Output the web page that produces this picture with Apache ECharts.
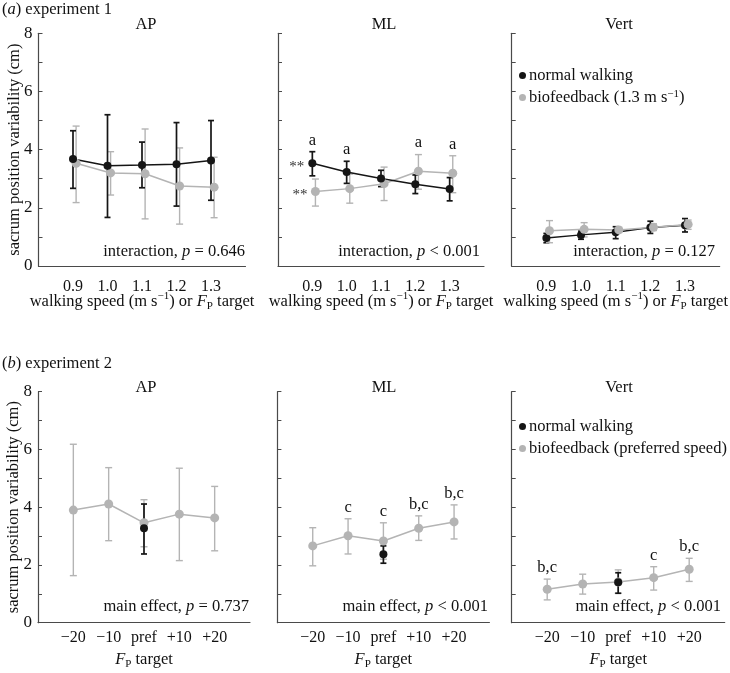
<!DOCTYPE html>
<html>
<head>
<meta charset="utf-8">
<script src="https://cdn.jsdelivr.net/npm/echarts@6/dist/echarts.min.js"></script>
<style>html,body{margin:0;padding:0;background:#fff}#c{width:730px;height:673px}</style>
</head>
<body>
<div id="c"></div>
<script>
// ---- data ----
const speeds = [0.9, 1.0, 1.1, 1.2, 1.3];
const speedLabels = ['0.9', '1.0', '1.1', '1.2', '1.3'];
const targets = [-20, -10, 0, 10, 20];
const targetLabels = ['\u221220', '\u221210', 'pref', '+10', '+20'];
const yTickValues = [0, 2, 4, 6, 8];
const yTickLabels = ['0', '2', '4', '6', '8'];

// experiment 1 (mean, lower, upper)
const e1AP_normal = [3.68, 3.45, 3.47, 3.50, 3.63];
const e1AP_normalLo = [2.67, 1.67, 2.69, 2.06, 2.26];
const e1AP_normalHi = [4.65, 5.20, 4.26, 4.93, 5.00];
const e1AP_bio = [3.53, 3.20, 3.17, 2.75, 2.71];
const e1AP_bioLo = [2.18, 2.44, 1.62, 1.44, 1.66];
const e1AP_bioHi = [4.81, 3.93, 4.71, 4.06, 3.74];

const e1ML_normal = [3.53, 3.23, 3.01, 2.81, 2.65];
const e1ML_normalLo = [3.10, 2.84, 2.73, 2.49, 2.24];
const e1ML_normalHi = [3.93, 3.60, 3.29, 3.13, 3.04];
const e1ML_bio = [2.56, 2.66, 2.83, 3.26, 3.19];
const e1ML_bioLo = [2.06, 2.16, 2.25, 2.64, 2.52];
const e1ML_bioHi = [2.99, 3.16, 3.40, 3.83, 3.79];

const e1Vert_normal = [0.96, 1.07, 1.16, 1.32, 1.40];
const e1Vert_normalLo = [0.80, 0.92, 0.94, 1.12, 1.17];
const e1Vert_normalHi = [1.12, 1.20, 1.35, 1.54, 1.63];
const e1Vert_bio = [1.21, 1.26, 1.24, 1.33, 1.43];
const e1Vert_bioLo = [0.80, 1.00, 1.15, 1.22, 1.26];
const e1Vert_bioHi = [1.56, 1.49, 1.33, 1.45, 1.58];

// experiment 2
const e2AP_bio = [3.90, 4.11, 3.46, 3.76, 3.63];
const e2AP_bioLo = [1.63, 2.84, 2.63, 2.15, 2.49];
const e2AP_bioHi = [6.18, 5.37, 4.26, 5.35, 4.72];
const e2AP_normal = [3.27], e2AP_normalLo = [2.38], e2AP_normalHi = [4.11];

const e2ML_bio = [2.66, 3.01, 2.83, 3.27, 3.49];
const e2ML_bioLo = [1.97, 2.38, 2.20, 2.85, 2.90];
const e2ML_bioHi = [3.29, 3.60, 3.46, 3.70, 4.08];
const e2ML_normal = [2.37], e2ML_normalLo = [2.06], e2ML_normalHi = [2.66];

const e2Vert_bio = [1.16, 1.34, 1.41, 1.56, 1.85];
const e2Vert_bioLo = [0.79, 0.99, 1.02, 1.13, 1.43];
const e2Vert_bioHi = [1.51, 1.68, 1.83, 1.94, 2.23];
const e2Vert_normal = [1.40], e2Vert_normalLo = [1.02], e2Vert_normalHi = [1.73];

// annotations
const e1ML_normalTop = ['a', 'a', '', '', ''];
const e1ML_bioTop = ['', '', '', 'a', 'a'];
const e1ML_normalLeft = ['**', '', '', '', ''];
const e1ML_bioLeft = ['**', '', '', '', ''];
const e2ML_bioTop = ['', 'c', 'c', 'b,c', 'b,c'];
const e2Vert_bioTop = ['b,c', '', '', 'c', 'b,c'];

const statsTop = ['interaction, {it|p} = 0.646', 'interaction, {it|p} < 0.001', 'interaction, {it|p} = 0.127'];
const statsBottom = ['main effect, {it|p} = 0.737', 'main effect, {it|p} < 0.001', 'main effect, {it|p} < 0.001'];
const panelTitles = ['AP', 'ML', 'Vert'];
const nameNormal = 'normal walking';
const nameBio1 = 'biofeedback (1.3 m s\u22121)';
const nameBio2 = 'biofeedback (preferred speed)';

// ---- style ----
const FONT = '"Liberation Serif", "Times New Roman", serif';
const BLACK = '#151515';
const GRAY = '#b4b4b4';
const AXIS = '#4a4a4a';
const bioOffset = 0.009;
const FS = 16.5;

const gridsPos = [
  {left: 38.5, top: 33.3, width: 207, height: 232.7},
  {left: 278, top: 33.3, width: 206, height: 232.7},
  {left: 511.7, top: 33.3, width: 210, height: 232.7},
  {left: 38, top: 391.7, width: 212, height: 231},
  {left: 277.4, top: 391.7, width: 212, height: 231},
  {left: 511.7, top: 391.7, width: 213, height: 231}
];

const richName = {
  sup: {fontFamily: FONT, fontSize: 11, verticalAlign: 'top', lineHeight: 12, color: '#111'},
  sub: {fontFamily: FONT, fontSize: 11, verticalAlign: 'bottom', lineHeight: 21, color: '#111'},
  it: {fontFamily: FONT, fontSize: FS, fontStyle: 'italic', color: '#111'}
};

const grid = gridsPos.map(g => Object.assign({containLabel: false}, g));
const xAxis = gridsPos.map((g, i) => {
  const top = i < 3;
  return {
    gridIndex: i, type: 'value',
    min: top ? 0.8 : -30, max: top ? 1.4 : 30, interval: top ? 0.1 : 10,
    axisLine: {onZero: false, lineStyle: {color: AXIS, width: 1.2}},
    axisTick: {show: false}, splitLine: {show: false},
    axisLabel: {
      color: '#111', fontFamily: FONT, fontSize: 16, margin: top ? 13 : 7,
      formatter: v => {
        if (top) { const k = speeds.findIndex(s => Math.abs(s - v) < 1e-6); return k >= 0 ? speedLabels[k] : ''; }
        const k = targets.findIndex(s => Math.abs(s - v) < 1e-6); return k >= 0 ? targetLabels[k] : '';
      }
    },
    name: top ? 'walking speed (m s{sup|\u22121}) or {it|F}{sub|P} target' : '{it|F}{sub|P} target',
    nameLocation: 'middle', nameGap: top ? 25 : 26, nameMoveOverlap: false,
    nameTextStyle: {fontFamily: FONT, fontSize: FS, color: '#111', rich: richName}
  };
});
const yAxis = gridsPos.map((g, i) => ({
  gridIndex: i, type: 'value', min: 0, max: 8, interval: 1,
  axisLine: {show: true, onZero: false, lineStyle: {color: AXIS, width: 1.2}},
  axisTick: {show: true, inside: true, length: 4, lineStyle: {color: AXIS}},
  splitLine: {show: false},
  axisLabel: {
    show: i % 3 === 0, color: '#111', fontFamily: FONT, fontSize: 17, margin: 6,
    formatter: v => { const k = yTickValues.indexOf(v); return k >= 0 ? yTickLabels[k] : ''; }
  },
  name: i % 3 === 0 ? 'sacrum position variability (cm)' : '',
  nameLocation: 'middle', nameGap: 15.5, nameMoveOverlap: false,
  nameTextStyle: {fontFamily: FONT, fontSize: FS, color: '#111'}
}));

function errSeries(gi, xs, mean, lo, hi, color, lw, cap, off, topLab, leftLab) {
  return {
    type: 'custom', name: '_err' + gi, xAxisIndex: gi, yAxisIndex: gi, silent: true,
    data: xs.map((x, i) => [x + off, lo[i], hi[i], mean[i]]),
    encode: {x: 0, y: [1, 2]},
    renderItem: (params, api) => {
      const x = api.value(0), l = api.value(1), h = api.value(2), m = api.value(3);
      const a = api.coord([x, l]), b = api.coord([x, h]);
      const st = {stroke: color, lineWidth: lw};
      const ch = [
        {type: 'line', shape: {x1: a[0], y1: a[1], x2: b[0], y2: b[1]}, style: st},
        {type: 'line', shape: {x1: a[0] - cap, y1: a[1], x2: a[0] + cap, y2: a[1]}, style: st},
        {type: 'line', shape: {x1: b[0] - cap, y1: b[1], x2: b[0] + cap, y2: b[1]}, style: st}
      ];
      const t = topLab ? topLab[params.dataIndex] : '';
      if (t) ch.push({type: 'text', style: {text: t, x: b[0], y: b[1] - 3, textAlign: 'center', textVerticalAlign: 'bottom', align: 'center', verticalAlign: 'bottom', font: FS + 'px ' + FONT, fill: '#111'}});
      const s = leftLab ? leftLab[params.dataIndex] : '';
      if (s) { const p = api.coord([x, m]); ch.push({type: 'text', style: {text: s, x: p[0] - 8, y: p[1] + 4, textAlign: 'right', textVerticalAlign: 'middle', align: 'right', verticalAlign: 'middle', font: '15px ' + FONT, fill: '#333'}}); }
      return {type: 'group', children: ch};
    },
    z: 2
  };
}
function lineSeries(gi, name, xs, mean, color, size, off) {
  return {
    type: 'line', name: name, xAxisIndex: gi, yAxisIndex: gi,
    data: xs.map((x, i) => [x + off, mean[i]]),
    symbol: 'circle', symbolSize: size, showSymbol: true,
    itemStyle: {color: color}, lineStyle: {color: color, width: 1.5},
    z: 3
  };
}

const series = [];
// experiment 1: AP, ML (gray below black)
[[0, e1AP_bio, e1AP_bioLo, e1AP_bioHi, e1AP_normal, e1AP_normalLo, e1AP_normalHi, null, null, null, null],
 [1, e1ML_bio, e1ML_bioLo, e1ML_bioHi, e1ML_normal, e1ML_normalLo, e1ML_normalHi, e1ML_bioTop, e1ML_bioLeft, e1ML_normalTop, e1ML_normalLeft]
].forEach(p => {
  series.push(errSeries(p[0], speeds, p[1], p[2], p[3], GRAY, 1.4, 3.5, bioOffset, p[7], p[8]));
  series.push(lineSeries(p[0], nameBio1, speeds, p[1], GRAY, 9, bioOffset));
  series.push(errSeries(p[0], speeds, p[4], p[5], p[6], BLACK, 1.7, 3, 0, p[9], p[10]));
  series.push(lineSeries(p[0], nameNormal, speeds, p[4], BLACK, 8, 0));
});
// experiment 1: Vert (black below gray)
series.push(errSeries(2, speeds, e1Vert_normal, e1Vert_normalLo, e1Vert_normalHi, BLACK, 1.7, 3, 0, null, null));
series.push(lineSeries(2, nameNormal, speeds, e1Vert_normal, BLACK, 8, 0));
series.push(errSeries(2, speeds, e1Vert_bio, e1Vert_bioLo, e1Vert_bioHi, GRAY, 1.4, 3.5, bioOffset, null, null));
series.push(lineSeries(2, nameBio1, speeds, e1Vert_bio, GRAY, 9, bioOffset));
// experiment 2
[[3, e2AP_bio, e2AP_bioLo, e2AP_bioHi, e2AP_normal, e2AP_normalLo, e2AP_normalHi, null],
 [4, e2ML_bio, e2ML_bioLo, e2ML_bioHi, e2ML_normal, e2ML_normalLo, e2ML_normalHi, e2ML_bioTop],
 [5, e2Vert_bio, e2Vert_bioLo, e2Vert_bioHi, e2Vert_normal, e2Vert_normalLo, e2Vert_normalHi, e2Vert_bioTop]
].forEach(p => {
  series.push(errSeries(p[0], targets, p[1], p[2], p[3], GRAY, 1.4, 3.5, 0, p[7], null));
  series.push(lineSeries(p[0], nameBio2, targets, p[1], GRAY, 9, 0));
  series.push(errSeries(p[0], [0], p[4], p[5], p[6], BLACK, 1.7, 3, 0, null, null));
  series.push(lineSeries(p[0], nameNormal, [0], p[4], BLACK, 8, 0));
});

const legendBase = {
  orient: 'vertical', left: 514, icon: 'circle', itemWidth: 7, itemHeight: 7, itemGap: 5,
  selectedMode: false,
  textStyle: {fontFamily: FONT, fontSize: FS, color: '#111', padding: [0, 0, 0, -2],
    rich: {sup: {fontFamily: FONT, fontSize: 11, verticalAlign: 'top', lineHeight: 12, color: '#111'}}}
};
const legend = [
  Object.assign({}, legendBase, {top: 62, data: [nameNormal, nameBio1],
    formatter: n => n === nameBio1 ? 'biofeedback (1.3 m s{sup|\u22121})' : n}),
  Object.assign({}, legendBase, {top: 413, data: [nameNormal, nameBio2]})
];

const txt = (text, x, y, align, size) => ({
  type: 'text', x: x, y: y, silent: true,
  style: {text: text, textAlign: align, textVerticalAlign: 'middle', align: align, verticalAlign: 'middle',
    font: size + 'px ' + FONT, fill: '#111',
    rich: {it: {font: 'italic ' + size + 'px ' + FONT, fill: '#111'}}}
});
const graphic = [
  txt('({it|a}) experiment 1', 2, 10, 'left', FS),
  txt('({it|b}) experiment 2', 2, 364, 'left', FS)
];
const titleX = [146, 384, 619];
panelTitles.forEach((t, i) => {
  graphic.push(txt(t, titleX[i], 25, 'center', FS));
  graphic.push(txt(t, titleX[i], 388, 'center', FS));
});
const statTopX = [245, 480, 715], statBotX = [249, 488, 721];
statsTop.forEach((s, i) => graphic.push(txt(s, statTopX[i], 252, 'right', FS)));
statsBottom.forEach((s, i) => graphic.push(txt(s, statBotX[i], 607, 'right', FS)));

const chart = echarts.init(document.getElementById('c'), null, {renderer: 'canvas'});
chart.setOption({
  animation: false, backgroundColor: '#fff',
  grid: grid, xAxis: xAxis, yAxis: yAxis, series: series, legend: legend, graphic: graphic
});
</script>
</body>
</html>
